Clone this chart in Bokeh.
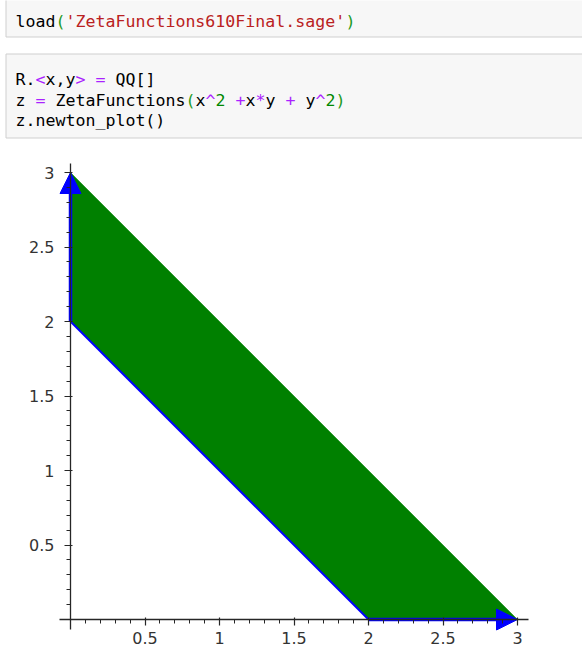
from bokeh.plotting import figure
from bokeh.models import (Range1d, LinearAxis, FixedTicker, CustomJSTickFormatter,
                          Arrow, NormalHead, ColumnDataSource)
from bokeh.core.properties import value
from bokeh.embed import file_html
from bokeh.resources import INLINE

# ---------------- data ----------------
# notebook code cells: (token, kind)
cell1_lines = [
    [("load", "n"), ("(", "b"), ("'ZetaFunctions610Final.sage'", "s"), (")", "b")],
]
cell2_lines = [
    [("R.", "n"), ("<", "o"), ("x,y", "n"), (">", "o"), (" ", "n"), ("=", "o"), (" QQ[]", "n")],
    [("z ", "n"), ("=", "o"), (" ZetaFunctions", "n"), ("(", "b"), ("x", "n"), ("^", "o"),
     ("2", "d"), (" ", "n"), ("+", "o"), ("x", "n"), ("*", "o"), ("y ", "n"), ("+", "o"),
     (" y", "n"), ("^", "o"), ("2", "d"), (")", "b")],
    [("z.newton_plot()", "n")],
]
kind_colors = {"n": "#000000", "b": "#1f9a1f", "s": "#BA2121", "o": "#AA22FF", "d": "#008800"}

# Newton polygon of x^2 + x*y + y^2
poly_x = [0, 2, 3, 0]
poly_y = [2, 0, 0, 3]
face_x = [0, 2]
face_y = [2, 0]
ray_x0 = [0, 2]
ray_y0 = [2, 0]
ray_x1 = [0, 3]
ray_y1 = [3, 0]

major_ticks = [0.5, 1, 1.5, 2, 2.5, 3]
minor_ticks = [i / 10 for i in range(1, 31)]

# ---------------- layout constants (pixels) ----------------
W, H = 582, 653
OX, OY = 70.0, 619.0      # pixel position of data origin
UX, UY = 149.0, 149.0     # pixels per data unit

p = figure(width=W, height=H,
           x_range=Range1d(-OX / UX, (W - OX) / UX),
           y_range=Range1d(-(H - OY) / UY, OY / UY),
           output_backend="svg", toolbar_location=None,
           x_axis_type=None, y_axis_type=None,
           min_border_left=0, min_border_right=0, min_border_top=0, min_border_bottom=0)
p.extra_x_ranges = {"px": Range1d(0, W)}
p.extra_y_ranges = {"px": Range1d(H, 0)}
p.outline_line_color = None
p.title.visible = False
p.background_fill_color = "white"
p.border_fill_color = "white"

# ---- notebook cells ----
p.quad(left=[5.5, 5.5], right=[640, 640], top=[-5, 53.5], bottom=[36.5, 137.5],
       fill_color="#f7f7f7", line_color="#cfcfcf", line_width=1,
       x_range_name="px", y_range_name="px")

CHAR_W = 10.0
X0 = 15
tx, ty, tt, tc = [], [], [], []
def add_lines(lines, baselines):
    for toks, base in zip(lines, baselines):
        col = 0
        for tok, kind in toks:
            # split into runs of non-space characters (SVG collapses spaces)
            run, run_start = "", col
            for i, ch in enumerate(tok + " "):
                if ch == " ":
                    if run:
                        tx.append(X0 + run_start * CHAR_W)
                        ty.append(base)
                        tt.append(run)
                        tc.append(kind_colors[kind])
                    run = ""
                    run_start = col + i + 1
                else:
                    if not run:
                        run_start = col + i
                    run += ch
            col += len(tok)

add_lines(cell1_lines, [21])
add_lines(cell2_lines, [79, 99.5, 120])
src = ColumnDataSource(dict(x=tx, y=ty, text=tt, color=tc))
p.text(x="x", y="y", text="text", source=src, text_color="color",
       text_font=value("DejaVu Sans Mono"), text_font_size=value("16.6px"),
       text_baseline="alphabetic", text_align="left",
       x_range_name="px", y_range_name="px")

# ---- Newton plot ----
p.patch(poly_x, poly_y, fill_color="#008000", line_color="#008000", line_width=0.5)
p.line(face_x, face_y, line_color="#0000ff", line_width=2)

rays = ColumnDataSource(dict(x0=ray_x0, y0=ray_y0, x1=ray_x1, y1=ray_y1))
arrow = Arrow(x_start="x0", y_start="y0", x_end="x1", y_end="y1", source=rays,
              line_color="#0000ff", line_width=3.5, level="glyph",
              end=NormalHead(size=21, fill_color="#0000ff", line_color="#0000ff", line_width=1))
p.add_layout(arrow)

fmt = CustomJSTickFormatter(code="return String(Math.round(tick*10)/10)")

def style_axis(ax, standoff):
    ax.axis_line_color = "#262626"
    ax.axis_line_width = 1.3
    ax.major_tick_line_color = "#262626"
    ax.minor_tick_line_color = "#262626"
    ax.major_tick_line_width = 1.2
    ax.minor_tick_line_width = 1.0
    ax.major_tick_in = 2
    ax.major_tick_out = 6
    ax.minor_tick_in = 0
    ax.minor_tick_out = 4
    ax.major_label_text_font = "DejaVu Sans"
    ax.major_label_text_font_size = "16px"
    ax.major_label_text_color = "#333333"
    ax.major_label_standoff = standoff

xax = LinearAxis(fixed_location=0, bounds=(-0.074, 3.074),
                 ticker=FixedTicker(ticks=major_ticks, minor_ticks=minor_ticks), formatter=fmt)
yax = LinearAxis(fixed_location=0, bounds=(-0.067, 3.06),
                 ticker=FixedTicker(ticks=major_ticks, minor_ticks=minor_ticks), formatter=fmt)
style_axis(xax, 6)
style_axis(yax, 10)
p.add_layout(xax, "below")
p.add_layout(yax, "left")

open("out.html", "w").write(file_html(p, INLINE))
